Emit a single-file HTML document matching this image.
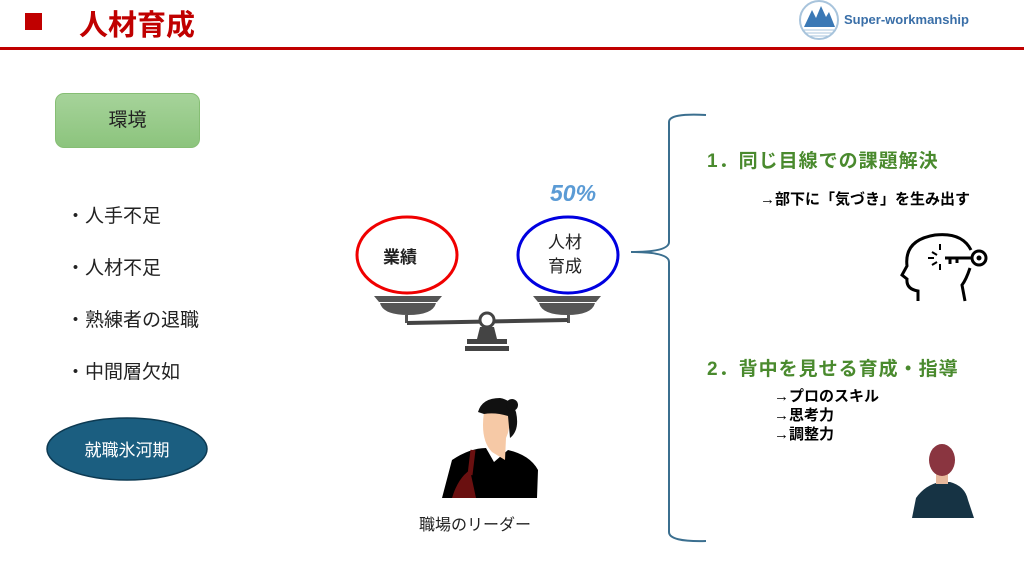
<!DOCTYPE html>
<html><head><meta charset="utf-8"><style>
body{margin:0;width:1024px;height:573px;background:#fff;position:relative;overflow:hidden;font-family:"Liberation Sans","Noto Sans CJK JP",sans-serif}
.a{position:absolute;white-space:nowrap}
</style></head><body>
<div class="a" style="left:25px;top:13px;width:17px;height:17px;background:#c00000"></div>
<div class="a" style="left:79px;top:2px;font-size:29px;font-weight:bold;color:#c00000">人材育成</div>
<div class="a" style="left:0;top:47px;width:1024px;height:3px;background:#c00000"></div>
<svg class="a" style="left:0;top:0" width="1024" height="573">
<circle cx="819" cy="20" r="19" fill="#fff" stroke="#a8c4dc" stroke-width="2"/>
<path d="M804 27 L812 10 L816 18 L821 6 L826 17 L829 12 L835 27Z" fill="#3a78b5"/>
<path d="M804 30h30M806 33h26M808 36h22" stroke="#a8c4dc" stroke-width="1"/>
<path d="M706 115 Q669 113 669 122 L669 242 Q669 252 631 252 Q669 252 669 262 L669 532 Q669 542 706 541" fill="none" stroke="#3b6f8f" stroke-width="2"/>
<ellipse cx="407" cy="255" rx="50" ry="38" fill="#fff" stroke="#f00000" stroke-width="3"/>
<ellipse cx="568" cy="255" rx="50" ry="38" fill="#fff" stroke="#0000e0" stroke-width="3"/>
<path d="M374 296h68l-5 6h-58z" fill="#555"/><path d="M380 303h56q-3 12-28 12q-25 0-28-12z" fill="#555"/>
<path d="M533 296h68l-5 6h-58z" fill="#555"/><path d="M539 303h56q-3 12-28 12q-25 0-28-12z" fill="#555"/>
<rect x="405" y="315" width="3" height="8" fill="#555"/><rect x="567" y="315" width="3" height="8" fill="#555"/>
<path d="M407 321 L568 318 L568 322 L407 325z" fill="#444"/>
<circle cx="487" cy="320" r="7" fill="#fff" stroke="#444" stroke-width="3"/>
<path d="M480 327h14l3 12h-20z" fill="#444"/><rect x="467" y="339" width="40" height="5" fill="#444"/><rect x="465" y="346" width="44" height="5" fill="#444"/>
<ellipse cx="127" cy="449" rx="80" ry="31" fill="#1b5e80" stroke="#0d3a52" stroke-width="1.5"/>
<!-- woman -->
<path d="M442 498 L452 460 Q470 448 486 448 L494 462 L508 450 Q530 455 538 470 L537 498z" fill="#000"/>
<path d="M452 498 Q458 478 470 470 L476 498z" fill="#6a1010"/>
<path d="M473 450 L470 475" stroke="#6a1010" stroke-width="5"/>
<path d="M484 412 Q480 440 492 452 L505 460 L506 438 Q512 425 508 410z" fill="#f6c9a6"/>
<path d="M478 412 Q482 398 500 398 Q512 400 516 412 Q520 430 510 438 L508 416 Q495 412 484 414z" fill="#111"/>
<circle cx="512" cy="405" r="6" fill="#111"/>
<!-- head key icon -->
<path d="M918 301 L918 291 Q906 289 907 279 L902 275 L907 266 Q904 240 935 235 Q962 232 971 250 M970 268 Q966 280 962 285 L965 301" fill="none" stroke="#000" stroke-width="3"/>
<path d="M945 258h27M950 258v6M957 258v5" stroke="#000" stroke-width="3"/>
<circle cx="979" cy="258" r="7" fill="none" stroke="#000" stroke-width="3"/>
<circle cx="979" cy="258" r="2.5" fill="#000"/>
<path d="M932 252l5 3M932 265l5-3M940 244v6M940 270v-6M928 258h6" stroke="#000" stroke-width="2"/>
<!-- man -->
<path d="M912 518 L916 498 Q925 485 940 482 L950 482 Q965 486 968 500 L974 518z" fill="#163344"/>
<rect x="936" y="474" width="12" height="10" fill="#e7b89c"/>
<ellipse cx="942" cy="460" rx="13" ry="16" fill="#8a3540"/>
</svg>
<div class="a" style="left:55px;top:93px;width:145px;height:55px;border-radius:9px;background:linear-gradient(#a6d39a,#8cc47d);border:1px solid #86be74;box-sizing:border-box;text-align:center;line-height:53px;font-size:19px;color:#222">環境</div>
<div class="a" style="left:66px;top:191px;font-size:19px;color:#222;line-height:52px">・人手不足<br>・人材不足<br>・熟練者の退職<br>・中間層欠如</div>
<div class="a" style="left:47px;top:436px;width:160px;text-align:center;font-size:17px;color:#fff">就職氷河期</div>
<div class="a" style="left:383px;top:243px;font-size:17px;font-weight:bold;color:#222">業績</div>
<div class="a" style="left:548px;top:231px;font-size:17px;color:#222;line-height:24px;text-align:center">人材<br>育成</div>
<div class="a" style="left:550px;top:180px;font-size:23px;font-weight:bold;font-style:italic;color:#5b9bd5">50%</div>
<div class="a" style="left:419px;top:511px;font-size:16px;color:#222">職場のリーダー</div>
<div class="a" style="left:707px;top:146px;font-size:19px;font-weight:bold;color:#4a8a2e;letter-spacing:1px">1．同じ目線での課題解決</div>
<div class="a" style="left:760px;top:188px;font-size:15px;font-weight:bold;color:#000">→部下に「気づき」を生み出す</div>
<div class="a" style="left:707px;top:354px;font-size:19px;font-weight:bold;color:#4a8a2e;letter-spacing:1px">2．背中を見せる育成・指導</div>
<div class="a" style="left:774px;top:387px;font-size:15px;font-weight:bold;color:#000;line-height:19px">→プロのスキル<br>→思考力<br>→調整力</div>
<div class="a" style="left:844px;top:12px;font-size:13px;font-weight:bold;color:#3a6fa8">Super-workmanship</div>
</body></html>
